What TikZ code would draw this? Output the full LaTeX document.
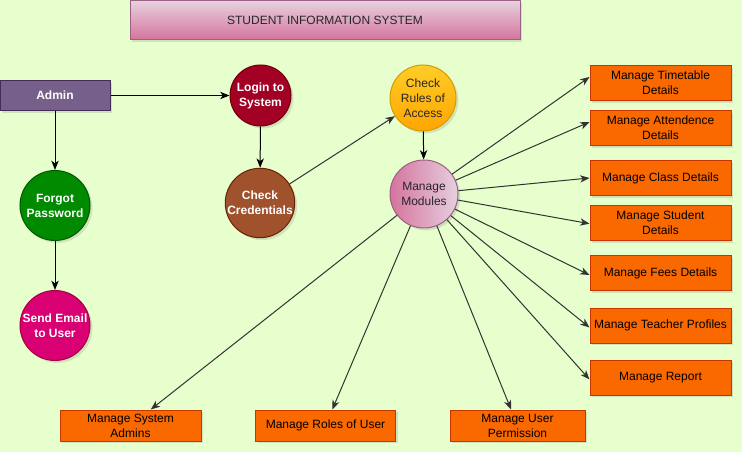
\documentclass[tikz,border=0pt]{standalone}
\usepackage{fontspec}
\setmainfont{Liberation Sans}
\usetikzlibrary{arrows.meta,shadows}
\definecolor{bgGreen}{HTML}{E6FFCC}
\definecolor{pinkLight}{HTML}{E6D0DE}
\definecolor{pinkDark}{HTML}{D5739D}
\definecolor{pinkEdge}{HTML}{996185}
\definecolor{orFill}{HTML}{FA6800}
\definecolor{orEdge}{HTML}{C73500}
\begin{document}
\begin{tikzpicture}[x=0.75pt,y=-0.75pt,
  every node/.style={font=\fontsize{9}{11.25}\selectfont,align=center,inner sep=0pt},
  shdw/.style={drop shadow={opacity=0.22,shadow xshift=1.8pt,shadow yshift=-1.8pt}},
  orbox/.style={draw=orEdge,fill=orFill,line width=0.75pt,minimum height=26.25pt,shdw},
  disc/.style={circle,line width=0.75pt,text=white,font=\bfseries\fontsize{9}{11.25}\selectfont,shdw},
  arr/.style={-{Stealth[length=7pt,width=5.5pt,inset=2pt]},line width=0.75pt,black}]
  \useasboundingbox[fill=bgGreen] (0,0) rectangle (742,452);
  % title
  \node[draw=pinkEdge,top color=pinkLight,bottom color=pinkDark,line width=0.75pt,minimum width=292.5pt,minimum height=29.25pt,text=black!85,shdw] (title) at (325,20.5) {STUDENT INFORMATION SYSTEM};
  % login chain
  \node[draw={rgb,255:red,67;green,45;blue,87},fill={rgb,255:red,118;green,96;blue,138},line width=0.75pt,minimum width=82.5pt,minimum height=22.5pt,text=white,font=\bfseries\fontsize{9}{11.25}\selectfont,shdw] (admin) at (55,95.5) {Admin};
  \node[disc,draw={rgb,255:red,111;green,0;blue,0},fill={rgb,255:red,162;green,0;blue,37},minimum size=45.75pt] (login) at (260.5,95.5) {Login to\\System};
  \node[disc,draw={rgb,255:red,109;green,31;blue,0},fill={rgb,255:red,160;green,82;blue,45},minimum size=48.75pt] (cred) at (260,203) {Check\\Credentials};
  \node[disc,draw={rgb,255:red,0;green,87;blue,0},fill={rgb,255:red,0;green,138;blue,0},minimum size=52.5pt] (forgot) at (55,205.5) {Forgot\\Password};
  \node[disc,draw={rgb,255:red,165;green,0;blue,64},fill={rgb,255:red,216;green,0;blue,115},minimum size=52.5pt] (email) at (55,325.5) {Send Email\\to User};
  \node[circle,draw={rgb,255:red,215;green,155;blue,0},top color={rgb,255:red,255;green,205;blue,40},bottom color={rgb,255:red,255;green,165;blue,0},line width=0.75pt,minimum size=49.5pt,text=black!85,shdw] (rules) at (423,98) {Check\\Rules of\\Access};
  \node[circle,draw=pinkEdge,left color=pinkDark,right color=pinkLight,line width=0.75pt,minimum size=51pt,text=black!85,shdw] (mm) at (424,194) {Manage\\Modules};
  \draw[arr] (admin) -- (login);
  \draw[arr] (admin) -- (forgot);
  \draw[arr] (forgot) -- (email);
  \draw[arr] (login) -- (cred);
  \draw[arr,black!80] (cred) -- (rules);
  \draw[arr] (rules) -- (mm);
  % right column of modules
  \foreach \i/\y/\dy/\txt in {
    1/83/4.5/Manage Timetable\\Details,
    2/128/4.5/Manage Attendence\\Details,
    3/178/0/Manage Class Details,
    4/223/-0.5/Manage Student\\Details,
    5/273/-1.5/Manage Fees Details,
    6/325.5/-1.5/Manage Teacher Profiles,
    7/377.5/-1.5/Manage Report} {
    \node[orbox,minimum width=105.75pt] (r\i) at (660.5,\y) {\txt};
    \draw[arr,black!80] (mm) -- ([yshift=\dy pt]r\i.west);
  }
  % bottom row of modules
  \foreach \i/\x/\w/\txt in {
    1/130.5/105.75/Manage System\\Admins,
    2/325.5/105/Manage Roles of User,
    3/517.5/101.25/Manage User\\Permission} {
    \node[orbox,minimum width=\w pt,minimum height=23.25pt] (b\i) at (\x,425.5) {\txt};
    \draw[arr,black!80] (mm) -- (b\i);
  }
\end{tikzpicture}
\end{document}
